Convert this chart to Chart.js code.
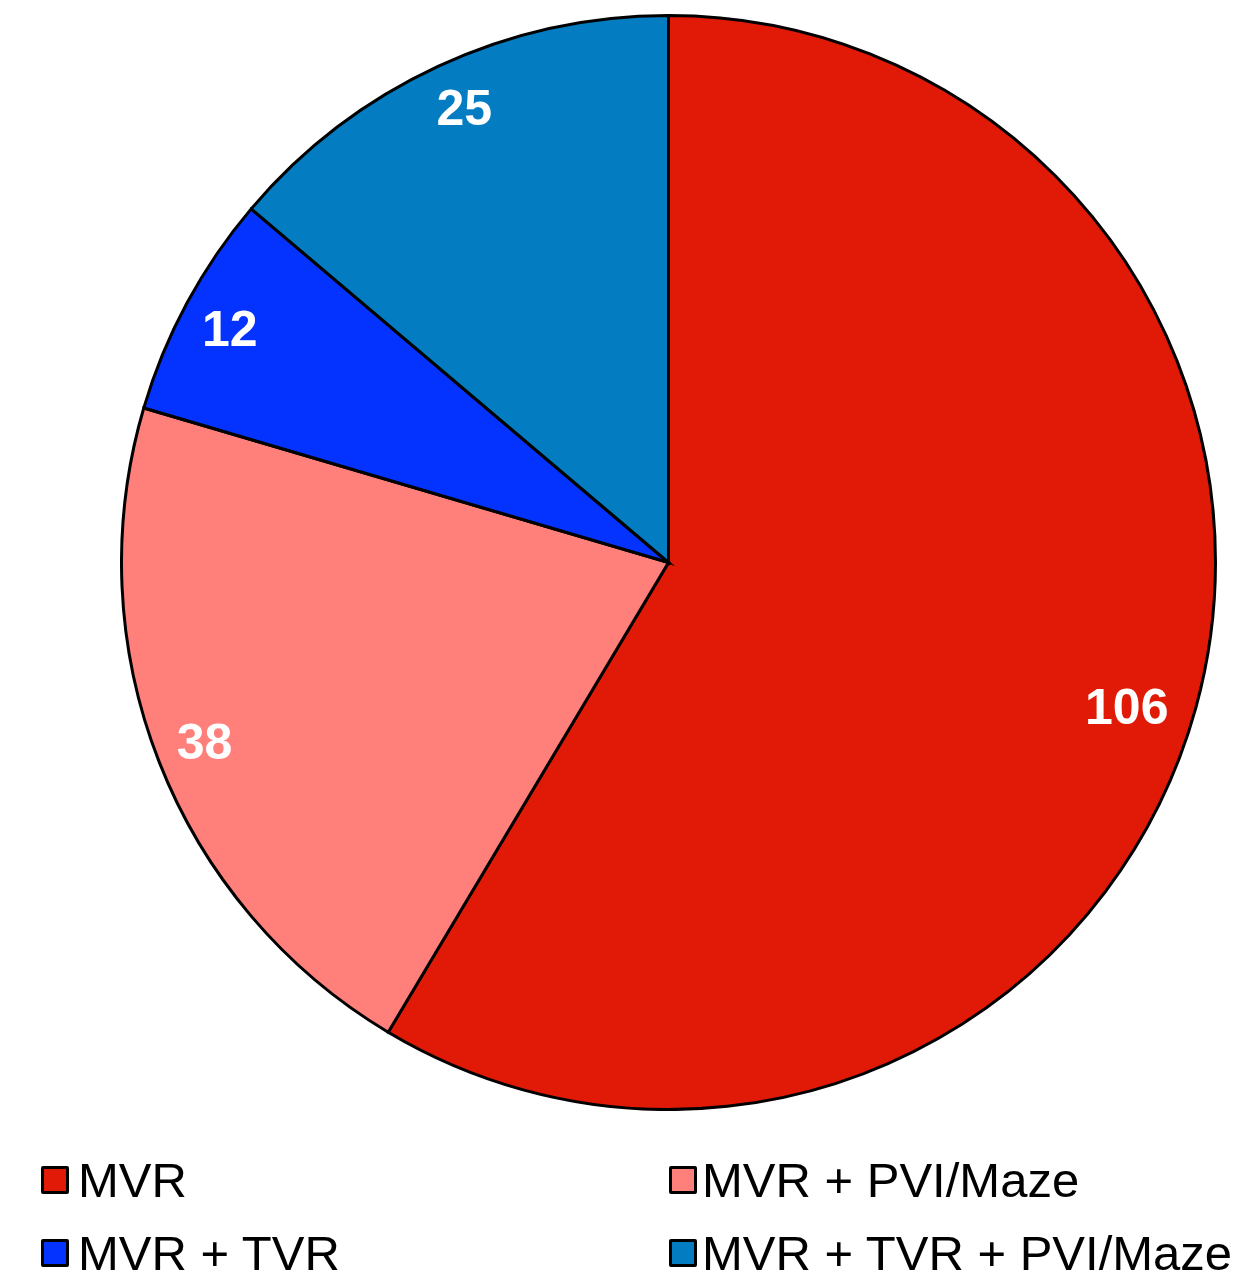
<!DOCTYPE html>
<html>
<head>
<meta charset="utf-8">
<script src="https://cdn.jsdelivr.net/npm/chart.js@4/dist/chart.umd.min.js"></script>
<style>
  html, body { margin: 0; padding: 0; background: #fff; }
  #wrap { position: relative; width: 1258px; height: 1273px; overflow: hidden; font-family: "Liberation Sans", Arial, sans-serif; }
  #pieBox { position: absolute; left: 120px; top: 14px; width: 1097px; height: 1097px; }
  .sw { position: absolute; width: 22px; height: 22px; border: 3px solid #000; border-radius: 2px; }
  .tx { position: absolute; font-size: 49px; line-height: 49px; height: 49px; color: #000; white-space: nowrap; }
</style>
</head>
<body>
<div id="wrap">
  <div id="pieBox"><canvas id="c"></canvas></div>
  <div id="legend"></div>
</div>
<script>
const categories = ["MVR", "MVR + PVI/Maze", "MVR + TVR", "MVR + TVR + PVI/Maze"];
const counts = [106, 38, 12, 25];
const colors = ["#E01A06", "#FF7F7A", "#0433FF", "#037CC2"];

// per-slice label nudges (pixels), styling only
const labelNudge = [[-19, 14], [-3, 0], [-3, 3], [4, -4]];

const labelPlugin = {
  id: 'sliceLabels',
  afterDatasetsDraw(chart) {
    const ctx = chart.ctx;
    const meta = chart.getDatasetMeta(0);
    ctx.save();
    ctx.fillStyle = '#fff';
    ctx.font = 'bold 50px "Liberation Sans", Arial, sans-serif';
    ctx.textAlign = 'center';
    ctx.textBaseline = 'middle';
    meta.data.forEach((arc, i) => {
      const p = arc.getProps(['x', 'y', 'startAngle', 'endAngle', 'outerRadius'], true);
      const mid = (p.startAngle + p.endAngle) / 2;
      const d = p.outerRadius * 0.905;
      const n = labelNudge[i] || [0, 0];
      ctx.fillText(String(counts[i]), p.x + Math.cos(mid) * d + n[0], p.y + Math.sin(mid) * d + 2 + n[1]);
    });
    ctx.restore();
  }
};

new Chart(document.getElementById('c'), {
  type: 'pie',
  data: {
    labels: categories,
    datasets: [{
      data: counts,
      backgroundColor: colors,
      borderColor: '#000',
      borderWidth: 3,
      borderJoinStyle: 'miter'
    }]
  },
  options: {
    responsive: true,
    maintainAspectRatio: false,
    animation: false,
    layout: { padding: 0 },
    plugins: {
      legend: { display: false },
      tooltip: { enabled: false }
    }
  },
  plugins: [labelPlugin]
});

// legend: two columns, built from the arrays
const legendEl = document.getElementById('legend');
const swX = [41, 669];
const txX = [78, 702];
const swY = [1166, 1239];
const txY = [1156, 1229];
categories.forEach((name, i) => {
  const col = i % 2, row = Math.floor(i / 2);
  const sw = document.createElement('div');
  sw.className = 'sw';
  sw.style.left = swX[col] + 'px';
  sw.style.top = swY[row] + 'px';
  sw.style.background = colors[i];
  const tx = document.createElement('div');
  tx.className = 'tx';
  tx.style.left = txX[col] + 'px';
  tx.style.top = txY[row] + 'px';
  tx.textContent = name;
  legendEl.appendChild(sw);
  legendEl.appendChild(tx);
});
</script>
</body>
</html>
